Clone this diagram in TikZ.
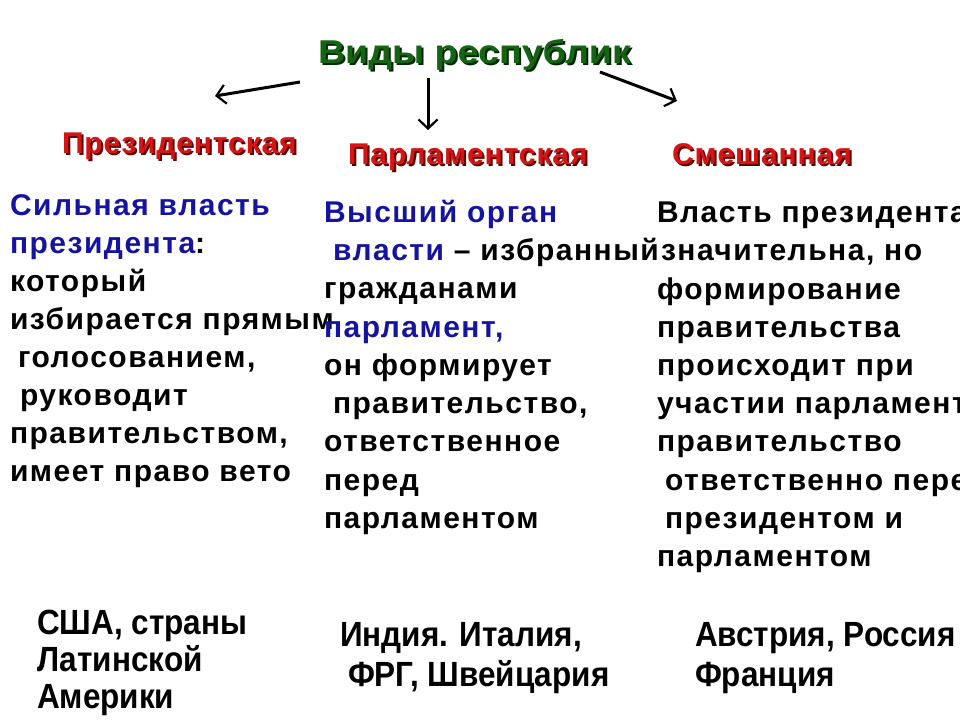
\documentclass[tikz,border=0pt]{standalone}
\usepackage{fontspec}
\setmainfont{Liberation Sans}
\newfontfamily\bodyf{Liberation Sans}[LetterSpace=5]
\newfontfamily\titlef{Liberation Sans}[FakeStretch=1.14]
\newfontfamily\headf{Liberation Sans}[LetterSpace=3]
\newfontfamily\ctryf{Liberation Sans}[FakeStretch=0.9]
\usetikzlibrary{arrows.meta}
\definecolor{tgreen}{RGB}{20,100,20}
\definecolor{tshadow}{RGB}{0,40,0}
\definecolor{hred}{RGB}{215,20,20}
\definecolor{hshadow}{RGB}{90,0,0}
\definecolor{bblue}{RGB}{20,20,160}
\begin{document}
\begin{tikzpicture}[x=1pt,y=-1pt,
  txt/.style={anchor=base west,inner sep=0pt,outer sep=0pt},
  body/.style={txt,font=\bodyf\bfseries\fontsize{30}{30}\selectfont},
  ctry/.style={txt,font=\ctryf\bfseries\fontsize{35}{35}\selectfont},
  head/.style={txt,font=\headf\bfseries\fontsize{30}{30}\selectfont},
  ttl/.style={txt,font=\titlef\bfseries\fontsize{33}{33}\selectfont},
  arr/.style={line width=3pt,-{Straight Barb[length=9pt,width=19pt,line width=2.2pt]}}]
\useasboundingbox (0,0) rectangle (960,720);
\clip (0,0) rectangle (960,720);
% title
\node[ttl,text=tshadow] at (320,65) {Виды республик};
\node[ttl,text=tgreen] (title) at (318,63) {Виды республик};
% arrows
\coordinate (la0) at (300,82); \coordinate (la1) at (215,96);
\coordinate (ca0) at (428,78); \coordinate (ca1) at (428,130);
\coordinate (ra0) at (600,72); \coordinate (ra1) at (677,101);
\draw[arr] (la0) -- (la1);
\draw[arr] (ca0) -- (ca1);
\draw[arr] (ra0) -- (ra1);
% headings
\node[head,text=hshadow] at (64,155) {Президентская};
\node[head,text=hred] (h1) at (62,153) {Президентская};
\node[head,text=hshadow] at (350,166) {Парламентская};
\node[head,text=hred] (h2) at (348,164) {Парламентская};
\node[head,text=hshadow] at (674,166) {Смешанная};
\node[head,text=hred] (h3) at (672,164) {Смешанная};
% left column
\node[body,text=bblue] (l1) at (10,215) {Сильная власть};
\node[body] (l2) at (10,253) {\textcolor{bblue}{президента}:};
\node[body] (l3) at (10,291) {который};
\node[body] (l4) at (10,329) {избирается прямым};
\node[body] (l5) at (18,367) {голосованием,};
\node[body] (l6) at (20,405) {руководит};
\node[body] (l7) at (10,443) {правительством,};
\node[body] (l8) at (10,481) {имеет право вето};
% middle column
\node[body,text=bblue] (m1) at (324,222) {Высший орган};
\node[body] (m2) at (333,260) {\textcolor{bblue}{власти} – избранный};
\node[body] (m3) at (324,298) {гражданами};
\node[body,text=bblue] (m4) at (324,337) {парламент,};
\node[body] (m5) at (324,375) {он формирует};
\node[body] (m6) at (333,413) {правительство,};
\node[body] (m7) at (324,451) {ответственное};
\node[body] (m8) at (324,490) {перед};
\node[body] (m9) at (324,528) {парламентом};
% right column
\node[body] (r1) at (657,222) {Власть президента};
\node[body] (r2) at (661,260) {значительна, но};
\node[body] (r3) at (657,299) {формирование};
\node[body] (r4) at (657,337) {правительства};
\node[body] (r5) at (657,375) {происходит при};
\node[body] (r6) at (657,413) {участии парламента};
\node[body] (r7) at (657,451) {правительство};
\node[body] (r8) at (665,490) {ответственно перед};
\node[body] (r9) at (665,528) {президентом и};
\node[body] (r10) at (657,566) {парламентом};
% countries
\node[ctry] (c1) at (37,634) {США, страны};
\node[ctry] (c2) at (37,671) {Латинской};
\node[ctry] (c3) at (37,708) {Америки};
\node[ctry] (c4) at (340,646) {Индия. Италия,};
\node[ctry] (c5) at (348,686) {ФРГ, Швейцария};
\node[ctry] (c6) at (695,646) {Австрия, Россия};
\node[ctry] (c7) at (695,686) {Франция};
\end{tikzpicture}
\end{document}
